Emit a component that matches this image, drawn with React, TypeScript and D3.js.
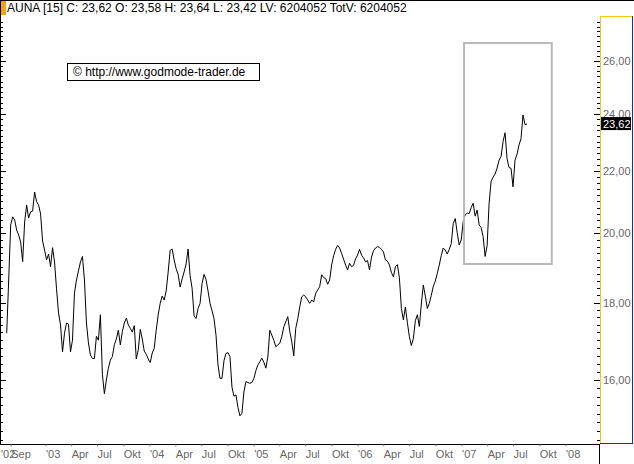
import React from 'react';
import * as d3 from 'd3';

const HEADER = 'AUNA [15] C: 23,62 O: 23,58 H: 23,64 L: 23,42 LV: 6204052 TotV: 6204052';
const COPYRIGHT = '\u00A9 http://www.godmode-trader.de';
const START_DATE = '2002-08-16';
const LAST_PRICE = 23.62;

// weekly closes
const prices = [
  17.18, 18.63, 20.26, 20.51, 20.41, 20.10, 19.95, 19.74, 19.16, 20.35,
  20.88, 20.47, 20.67, 20.69, 21.30, 20.99, 20.88, 20.60, 19.77, 19.50,
  19.21, 19.38, 19.01, 19.57, 19.15, 18.38, 17.72, 17.40, 16.70, 17.18,
  17.45, 17.42, 16.70, 17.00, 18.27, 18.63, 18.89, 19.15, 19.31, 18.63,
  17.45, 16.93, 16.62, 16.53, 16.53, 17.10, 17.00, 17.67, 16.14, 15.67,
  16.00, 16.29, 16.49, 16.58, 16.88, 17.03, 17.26, 16.88, 17.22, 17.45,
  17.58, 17.40, 17.31, 17.21, 17.38, 16.52, 16.75, 17.28, 17.03, 16.72,
  16.64, 16.52, 16.43, 16.67, 16.79, 17.26, 17.67, 17.98, 18.18, 18.07,
  18.32, 18.86, 19.49, 19.53, 19.21, 18.95, 18.79, 18.43, 18.66, 18.86,
  19.09, 19.53, 18.75, 18.40, 17.64, 17.57, 17.84, 17.98, 18.53, 18.79,
  18.64, 18.32, 17.98, 17.78, 17.57, 17.13, 16.37, 16.04, 16.04, 16.48,
  16.66, 16.68, 16.58, 15.83, 15.61, 15.64, 15.35, 15.15, 15.21, 15.71,
  15.96, 15.94, 15.92, 15.94, 16.04, 16.23, 16.37, 16.45, 16.54, 16.44,
  16.29, 16.57, 17.26, 17.13, 17.00, 16.83, 16.88, 16.92, 17.09, 17.35,
  17.48, 17.62, 17.23, 16.96, 16.60, 17.31, 17.56, 17.88, 18.16, 18.21,
  18.16, 18.07, 17.98, 18.07, 18.02, 18.26, 18.35, 18.44, 18.78, 18.70,
  18.67, 18.51, 18.63, 19.06, 19.33, 19.52, 19.64, 19.56, 19.40, 19.23,
  19.06, 18.92, 19.11, 19.01, 19.05, 19.24, 19.35, 19.52, 19.35, 19.27,
  19.15, 19.19, 18.92, 19.29, 19.48, 19.56, 19.60, 19.58, 19.52, 19.44,
  19.21, 19.17, 19.06, 18.84, 18.72, 19.01, 19.07, 18.69, 17.84, 17.53,
  17.88, 17.46, 17.09, 16.86, 17.04, 17.51, 17.67, 17.36, 17.96, 18.49,
  18.18, 17.84, 17.98, 18.20, 18.45, 18.60, 18.82, 19.06, 19.34, 19.56,
  19.50, 19.38, 19.52, 19.69, 20.30, 20.46, 20.02, 19.65, 19.80, 20.36,
  20.57, 20.63, 20.61, 20.80, 20.94, 20.53, 20.72, 20.26, 20.18, 19.90,
  19.31, 19.63, 20.94, 21.65, 21.79, 21.89, 22.09, 22.36, 22.48, 23.00,
  23.31, 22.41, 22.11, 22.08, 21.47, 22.36, 22.56, 22.88, 23.10, 23.95,
  23.60, 23.62,
];

const yLabelValues = [16, 18, 20, 22, 24, 26];
const xLabelDates = [
  '2002-09-01', '2003-01-01', '2003-04-01', '2003-07-01', '2003-10-01',
  '2004-01-01', '2004-04-01', '2004-07-01', '2004-10-01',
  '2005-01-01', '2005-04-01', '2005-07-01', '2005-10-01',
  '2006-01-01', '2006-04-01', '2006-07-01', '2006-10-01',
  '2007-01-01', '2007-04-01', '2007-07-01', '2007-10-01',
  '2008-01-01',
];
const xLabelTexts = [
  'Sep', "'03", 'Apr', 'Jul', 'Okt', "'04", 'Apr', 'Jul', 'Okt',
  "'05", 'Apr', 'Jul', 'Okt', "'06", 'Apr', 'Jul', 'Okt',
  "'07", 'Apr', 'Jul', 'Okt', "'08",
];
const FIRST_YEAR_LABEL = "'02";
// highlight box: time span and price span
const boxDates = ['2007-01-08', '2007-11-12'];
const boxPrices = [19.09, 26.72];

const FONT = '"Liberation Sans", Arial, sans-serif';

export default function App() {
  const W = 634;
  const H = 464;
  const plotRight = 600;
  const plotBottom = 444.5;
  const panelTop = 16;

  const parse = d3.timeParse('%Y-%m-%d');
  const x = d3
    .scaleTime()
    .domain([parse('2003-01-01')!, parse('2008-01-01')!])
    .range([46, 566]);
  const y = d3.scaleLog().domain([16, 26]).range([380, 61]);

  const start = parse(START_DATE)!;
  const data = prices.map((v, i) => ({ d: d3.timeDay.offset(start, 7 * i), v }));
  const line = d3
    .line<{ d: Date; v: number }>()
    .x((p) => x(p.d))
    .y((p) => y(p.v));

  const minorTicks = d3.range(73, 140).map((i) => ({ v: i / 5, major: i % 10 === 0 }));

  const bx0 = x(parse(boxDates[0])!);
  const bx1 = x(parse(boxDates[1])!);
  const by0 = y(boxPrices[1]);
  const by1 = y(boxPrices[0]);

  return (
    <svg
      width={W}
      height={H}
      style={{ position: 'absolute', left: 0, top: 0, background: '#fff' }}
      fontFamily={FONT}
    >
      <rect x={0} y={0} width={W} height={H} fill="#fff" />
      {/* top border */}
      <line x1={0} x2={W} y1={0.5} y2={0.5} stroke="#000" />
      {/* left border */}
      <line x1={0.5} x2={0.5} y1={0} y2={plotBottom} stroke="#000" />
      {/* orange marker */}
      <rect x={1} y={1} width={5} height={14} fill="#f7a11a" />
      <text x={7} y={12} fontSize={12} fill="#000">
        {HEADER}
      </text>

      {/* left ticks */}
      {minorTicks.map((t, i) => {
        const yy = Math.round(y(t.v)) + 0.5;
        if (yy < panelTop + 2 || yy > plotBottom - 2) return null;
        return (
          <line key={'l' + i} x1={0} x2={t.major ? 6 : 3} y1={yy} y2={yy} stroke="#000" />
        );
      })}

      {/* price line */}
      <path d={line(data) || ''} fill="none" stroke="#000" strokeWidth={1} />

      {/* highlight box */}
      <rect
        x={bx0}
        y={by0}
        width={bx1 - bx0}
        height={by1 - by0}
        fill="none"
        stroke="#b8b8b8"
        strokeWidth={2}
      />

      {/* copyright box */}
      <rect x={67.5} y={63.5} width={192} height={17} fill="#fff" stroke="#000" />
      <text x={73} y={76} fontSize={12} fill="#000">
        {COPYRIGHT}
      </text>

      {/* x axis */}
      <line x1={0} x2={plotRight} y1={plotBottom} y2={plotBottom} stroke="#000" />
      <line x1={plotRight - 0.5} x2={plotRight - 0.5} y1={plotBottom} y2={H} stroke="#000" />
      <text x={1} y={458} fontSize={11} fill="#666">
        {FIRST_YEAR_LABEL}
      </text>
      {xLabelDates.map((ds, i) => {
        const xx = x(parse(ds)!);
        return (
          <g key={'x' + i}>
            <line x1={xx} x2={xx} y1={plotBottom} y2={plotBottom + 2} stroke="#888" />
            <text x={xx} y={458} fontSize={11} fill="#666">
              {xLabelTexts[i]}
            </text>
          </g>
        );
      })}

      {/* right panel */}
      <rect x={plotRight} y={panelTop} width={W - plotRight - 1} height={plotBottom - panelTop - 1} fill="#fff" />
      {minorTicks.map((t, i) => {
        const yy = Math.round(y(t.v)) + 0.5;
        if (yy < panelTop + 2 || yy > plotBottom - 2) return null;
        return (
          <line key={'r' + i} x1={t.major ? 594 : 597} x2={600} y1={yy} y2={yy} stroke="#000" />
        );
      })}
      {yLabelValues.map((v) => (
        <text key={'y' + v} x={603} y={y(v) + 4} fontSize={11} fill="#666">
          {d3.format('.2f')(v).replace('.', ',')}
        </text>
      ))}
      <line x1={600.5} x2={600.5} y1={panelTop} y2={plotBottom - 1} stroke="#f5c518" />
      <line x1={600} x2={W - 1} y1={panelTop + 0.5} y2={panelTop + 0.5} stroke="#f5c518" />
      <line x1={W - 1.5} x2={W - 1.5} y1={panelTop} y2={plotBottom - 1} stroke="#0a2bd0" />
      <line x1={600} x2={W - 1} y1={plotBottom - 1} y2={plotBottom - 1} stroke="#0a2bd0" />

      {/* last price label */}
      <rect x={601} y={y(LAST_PRICE) - 7} width={30} height={13} fill="#000" />
      <text x={603} y={y(LAST_PRICE) + 4} fontSize={11} fill="#fff">
        {d3.format('.2f')(LAST_PRICE).replace('.', ',')}
      </text>
    </svg>
  );
}
